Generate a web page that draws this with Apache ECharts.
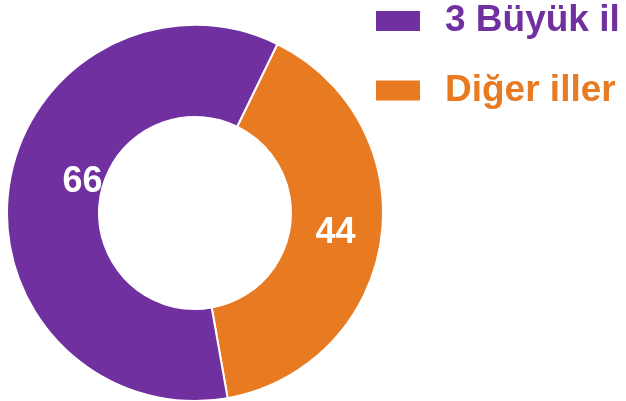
<!DOCTYPE html>
<html>
<head>
<meta charset="utf-8">
<script src="https://cdn.jsdelivr.net/npm/echarts@6/dist/echarts.min.js"></script>
<style>html,body{margin:0;padding:0;background:#fff}#c{width:626px;height:401px}</style>
</head>
<body>
<div id="c"></div>
<script>
const categories = ['Diğer iller', '3 Büyük il'];
const values = [44, 66];
const colors = ['#E87A22', '#7030A0'];
const legendOrder = ['3 Büyük il', 'Diğer iller'];

const chart = echarts.init(document.getElementById('c'), null, {renderer: 'canvas'});
const colorOf = name => colors[categories.indexOf(name)];
chart.setOption({
  animation: false,
  legend: {
    orient: 'vertical',
    left: 374,
    top: 2.5,
    padding: 0,
    itemWidth: 46,
    itemHeight: 22,
    itemGap: 32.5,
    icon: 'rect',
    data: legendOrder.map(n => ({
      name: n,
      textStyle: {color: colorOf(n)}
    })),
    textStyle: {
      fontFamily: 'Liberation Sans, Arial, sans-serif',
      fontWeight: 'bold',
      fontSize: 37,
      lineHeight: 36,
      padding: [0, 0, 0, 19]
    }
  },
  series: [{
    type: 'pie',
    center: [195, 213],
    radius: [96, 188],
    startAngle: 64,
    clockwise: true,
    avoidLabelOverlap: false,
    itemStyle: {borderColor: '#fff', borderWidth: 2},
    label: {
      show: true,
      position: 'inside',
      formatter: '{c}',
      color: '#fff',
      fontFamily: 'Liberation Sans, Arial, sans-serif',
      fontWeight: 'bold',
      fontSize: 36
    },
    labelLine: {show: false},
    labelLayout: function (p) {
      if (p.dataIndex === 1) return {dx: 31, dy: -11};
      return {dx: -3, dy: 0};
    },
    emphasis: {disabled: true},
    data: categories.map((n, i) => ({name: n, value: values[i], itemStyle: {color: colors[i]}}))
  }]
});
</script>
</body>
</html>
